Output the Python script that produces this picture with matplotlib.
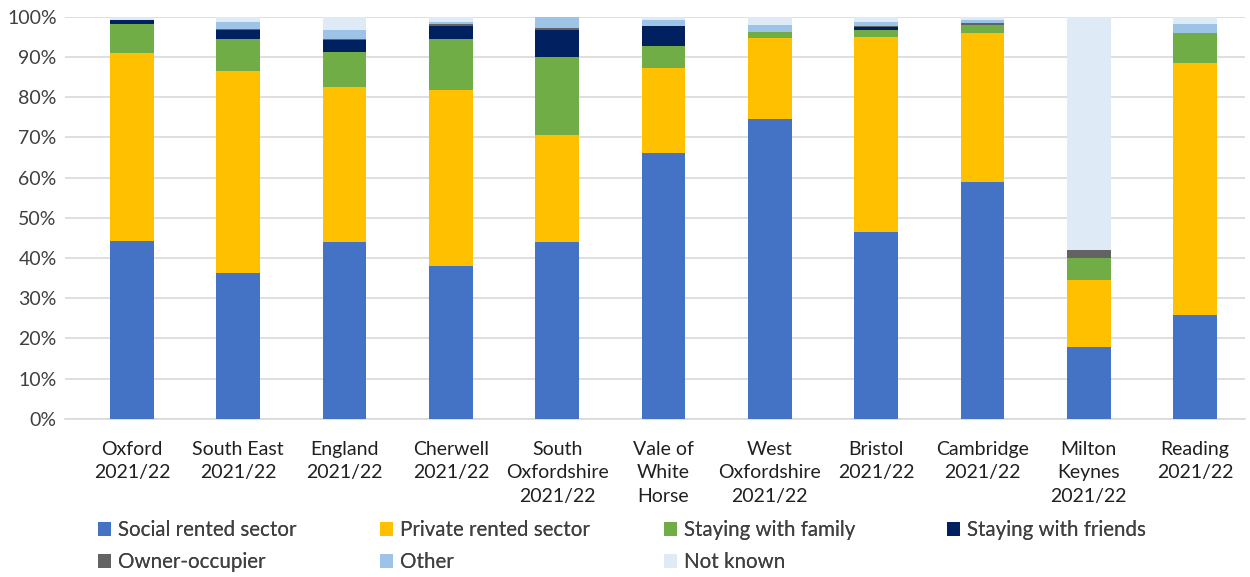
import numpy as np
import matplotlib.pyplot as plt

plt.rcParams['font.family'] = ['Lato', 'DejaVu Sans']

# Categories and shares (%)
areas = ['Oxford\n2021/22', 'South East\n2021/22', 'England\n2021/22', 'Cherwell\n2021/22',
         'South\nOxfordshire\n2021/22', 'Vale of\nWhite\nHorse', 'West\nOxfordshire\n2021/22',
         'Bristol\n2021/22', 'Cambridge\n2021/22', 'Milton\nKeynes\n2021/22', 'Reading\n2021/22']

social = [44.3, 36.3, 44.0, 38.1, 44.0, 66.2, 74.6, 46.5, 59.0, 17.8, 25.8]
private = [46.7, 50.3, 38.5, 43.6, 26.6, 21.0, 20.0, 48.4, 36.9, 16.8, 62.8]
family = [7.3, 7.9, 8.8, 12.8, 19.5, 5.5, 1.7, 1.9, 2.1, 5.3, 7.3]
friends = [1.0, 2.2, 2.9, 3.3, 6.6, 5.1, 0.0, 0.6, 0.0, 0.0, 0.0]
owner = [0.0, 0.3, 0.3, 0.5, 0.6, 0.0, 0.0, 0.2, 0.4, 2.1, 0.0]
other = [0.0, 1.7, 2.2, 0.3, 2.7, 1.5, 1.7, 1.1, 0.9, 0.0, 2.4]
not_known = [0.7, 1.3, 3.3, 1.4, 0.0, 0.7, 2.0, 1.3, 0.7, 58.0, 1.7]

series = [
    ('Social rented sector', social, '#4472C4'),
    ('Private rented sector', private, '#FFC000'),
    ('Staying with family', family, '#70AD47'),
    ('Staying with friends', friends, '#002060'),
    ('Owner-occupier', owner, '#636363'),
    ('Other', other, '#9DC3E6'),
    ('Not known', not_known, '#DEEBF7'),
]

fig = plt.figure(figsize=(12.5, 5.77), dpi=100)
ax = fig.add_axes([0.052, 0.274, 0.944, 0.697])

x = np.arange(len(areas))
bottom = np.zeros(len(areas))
handles = []
for name, vals, col in series:
    vals = np.array(vals)
    h = ax.bar(x, vals, 0.41, bottom=bottom, color=col, label=name, zorder=3)
    handles.append(h)
    bottom += vals

ax.set_ylim(0, 100)
ax.set_xlim(-0.63, 10.47)
ax.set_yticks(np.arange(0, 101, 10))
ax.set_yticklabels([f'{v}%' for v in range(0, 101, 10)], fontsize=14, color='#404040')
ax.set_xticks(x)
ax.set_xticklabels(areas, fontsize=14, color='#202020', linespacing=1.45, va='top')
ax.tick_params(axis='x', length=0, pad=16)
ax.tick_params(axis='y', length=0, pad=6)
ax.grid(axis='y', color='#D9D9D9', linewidth=1.2, zorder=0)
for s in ['left', 'right', 'top']:
    ax.spines[s].set_visible(False)
ax.spines['bottom'].set_color('#D9D9D9')
ax.spines['bottom'].set_linewidth(1.2)

# legend laid out like Excel: fixed column positions, two rows
leg_x = [98, 380, 664, 947, 98, 380, 664]
leg_y = [530, 530, 530, 530, 562, 562, 562]
for i in range(len(series)):
    lg = fig.legend([handles[i]], [series[i][0]], loc='center left',
                    bbox_to_anchor=(leg_x[i] / 1250, 1 - leg_y[i] / 577),
                    frameon=False, fontsize=14.8, handlelength=0.65, handleheight=0.65,
                    handletextpad=0.3, borderpad=0, borderaxespad=0,
                    labelcolor='#404040')
    fig.add_artist(lg)

fig.savefig('out.png', dpi=100)
